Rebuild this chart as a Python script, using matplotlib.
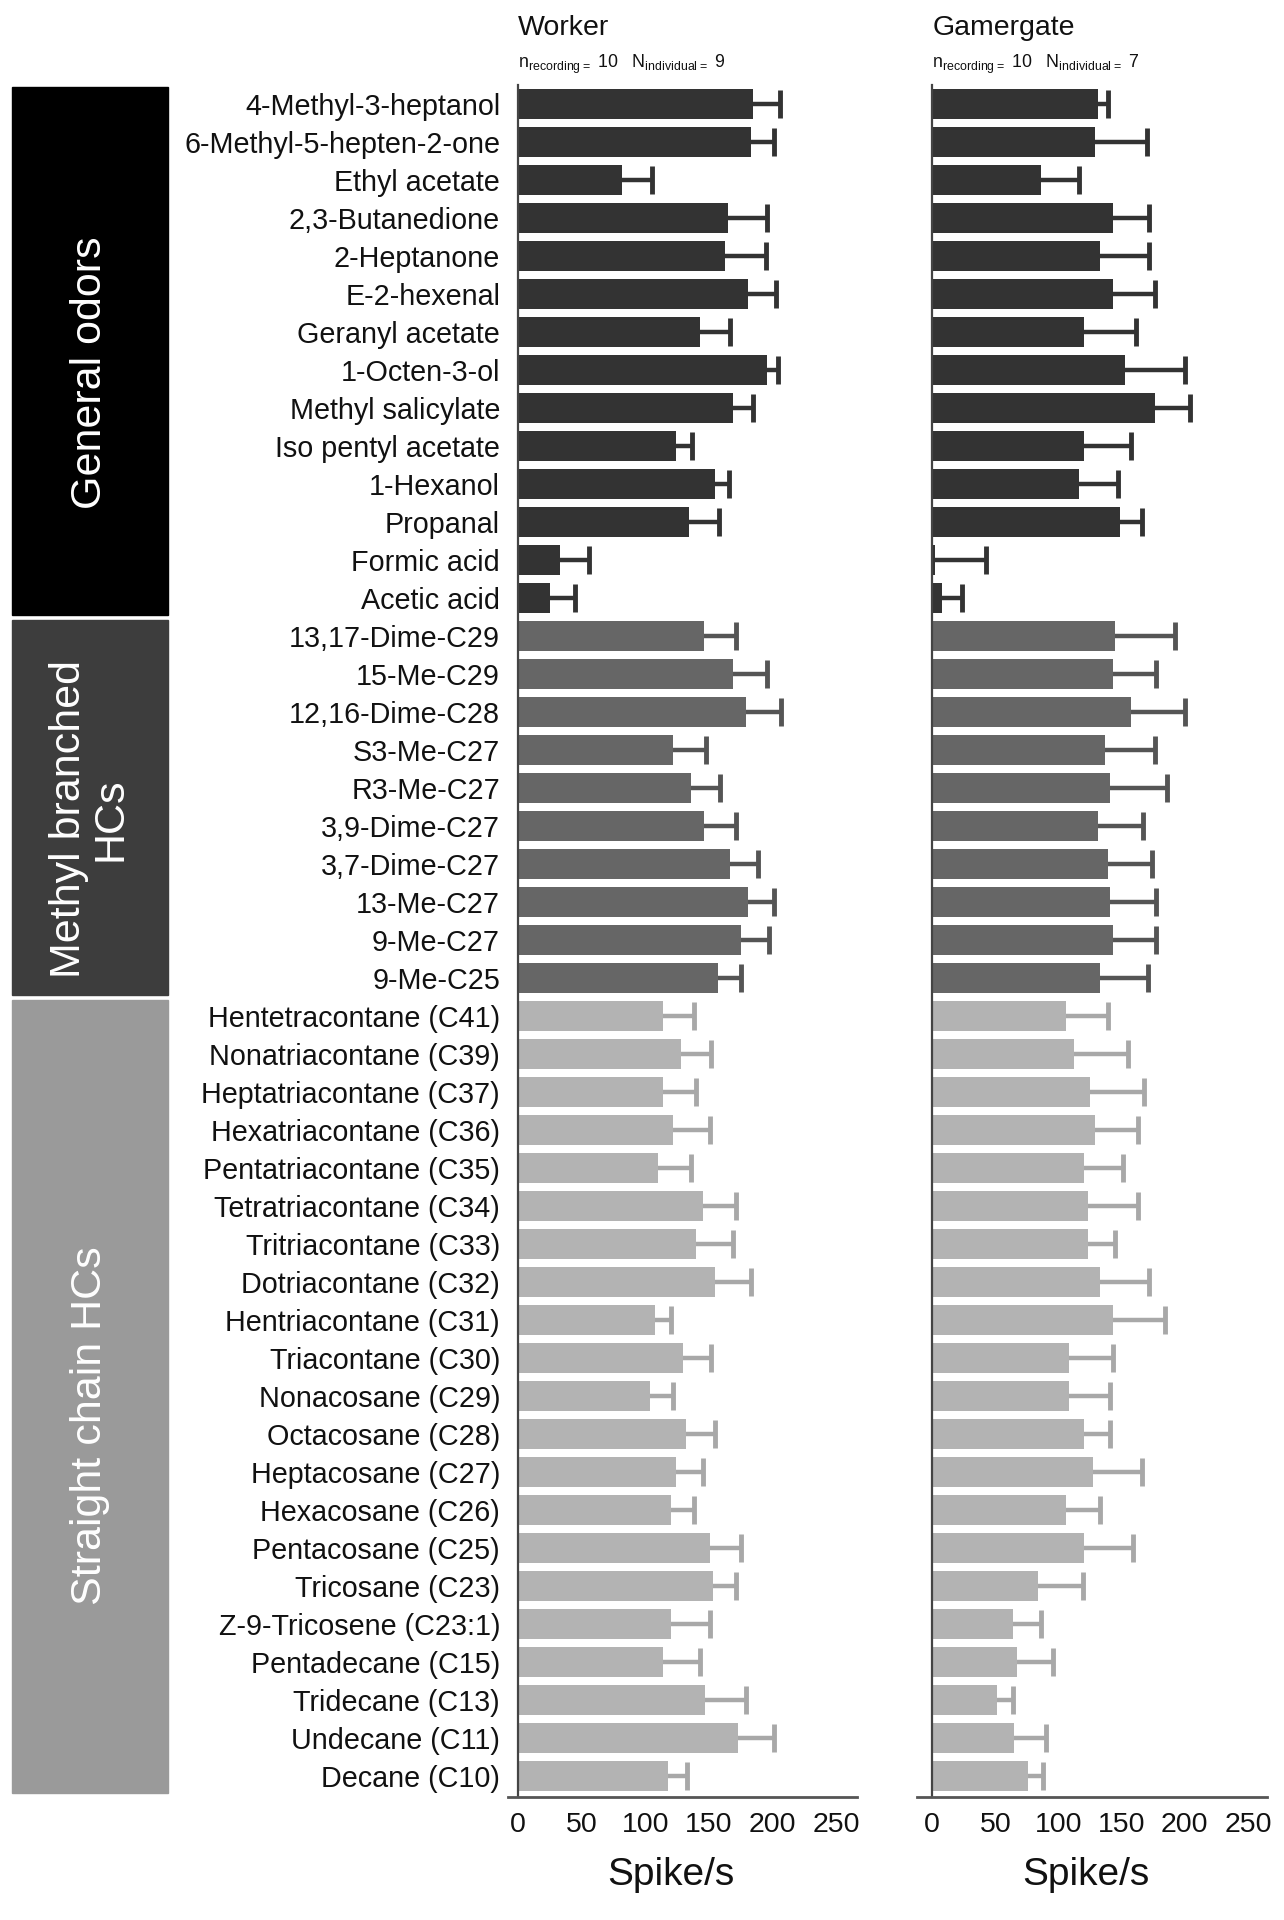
import matplotlib
matplotlib.use("Agg")
import matplotlib.pyplot as plt
from matplotlib.patches import Rectangle
from matplotlib.transforms import blended_transform_factory

plt.rcParams['font.family'] = ['Liberation Sans', 'DejaVu Sans']
plt.rcParams['mathtext.fontset'] = 'custom'
plt.rcParams['mathtext.rm'] = 'Liberation Sans'

# odor names, top to bottom
general = ["4-Methyl-3-heptanol", "6-Methyl-5-hepten-2-one", "Ethyl acetate",
           "2,3-Butanedione", "2-Heptanone", "E-2-hexenal", "Geranyl acetate",
           "1-Octen-3-ol", "Methyl salicylate", "Iso pentyl acetate", "1-Hexanol",
           "Propanal", "Formic acid", "Acetic acid"]
methyl = ["13,17-Dime-C29", "15-Me-C29", "12,16-Dime-C28", "S3-Me-C27", "R3-Me-C27",
          "3,9-Dime-C27", "3,7-Dime-C27", "13-Me-C27", "9-Me-C27", "9-Me-C25"]
straight = ["Hentetracontane (C41)", "Nonatriacontane (C39)", "Heptatriacontane (C37)",
            "Hexatriacontane (C36)", "Pentatriacontane (C35)", "Tetratriacontane (C34)",
            "Tritriacontane (C33)", "Dotriacontane (C32)", "Hentriacontane (C31)",
            "Triacontane (C30)", "Nonacosane (C29)", "Octacosane (C28)", "Heptacosane (C27)",
            "Hexacosane (C26)", "Pentacosane (C25)", "Tricosane (C23)",
            "Z-9-Tricosene (C23:1)", "Pentadecane (C15)", "Tridecane (C13)",
            "Undecane (C11)", "Decane (C10)"]

# spikes/s, mean and SEM
worker_general = [185, 183, 82, 165, 163, 181, 143, 196, 169, 124, 155, 134, 33, 25]
worker_general_err = [21, 18, 23, 31, 32, 22, 24, 8, 16, 13, 11, 24, 23, 20]
worker_methyl = [146, 169, 179, 122, 136, 146, 167, 181, 175, 157]
worker_methyl_err = [25, 27, 28, 26, 23, 25, 22, 20, 22, 18]
worker_straight = [114, 128, 114, 122, 110, 145, 140, 155, 108, 130, 104, 132, 124, 120,
                   151, 153, 120, 114, 147, 173, 118]
worker_straight_err = [24, 24, 26, 29, 26, 26, 29, 28, 12, 22, 18, 23, 21, 18,
                       24, 18, 31, 29, 32, 28, 15]

gamer_general = [131, 129, 86, 143, 133, 143, 120, 153, 176, 120, 116, 149, 2, 8]
gamer_general_err = [8, 41, 30, 29, 39, 33, 41, 47, 28, 37, 31, 17, 41, 16]
gamer_methyl = [145, 143, 157, 137, 141, 131, 139, 141, 143, 133]
gamer_methyl_err = [47, 34, 43, 39, 45, 36, 35, 36, 34, 38]
gamer_straight = [106, 112, 125, 129, 120, 123, 123, 133, 143, 108, 108, 120, 127, 106,
                  120, 84, 64, 67, 51, 65, 76]
gamer_straight_err = [33, 43, 43, 34, 31, 40, 22, 39, 41, 35, 33, 21, 39, 27,
                      39, 35, 22, 29, 13, 25, 12]

groups = ["General odors", "Methyl branched\nHCs", "Straight chain HCs"]
group_names = [general, methyl, straight]
bar_colors = ["#333333", "#666666", "#b3b3b3"]
err_colors = ["#333333", "#555555", "#a8a8a8"]
block_colors = ["#000000", "#3d3d3d", "#9a9a9a"]
text_shift = [22, 12, 30]  # px, block captions sit a bit low

labels = general + methyl + straight
n = len(labels)

fig = plt.figure(figsize=(12.84, 19.2), dpi=100)
W, H = 1284, 1920
ax1 = fig.add_axes([508 / W, 1 - 1797 / H, 349 / W, 1712 / H])
ax2 = fig.add_axes([917 / W, 1 - 1797 / H, 350 / W, 1712 / H])

panels = [
    (ax1, [worker_general, worker_methyl, worker_straight],
     [worker_general_err, worker_methyl_err, worker_straight_err], -8, 266.5, 0.467),
    (ax2, [gamer_general, gamer_methyl, gamer_straight],
     [gamer_general_err, gamer_methyl_err, gamer_straight_err], -12, 265, 0.483),
]

for ax, means, errs, xmin, xmax, labx in panels:
    start = 0
    for g in range(3):
        m = means[g]
        e = errs[g]
        y = list(range(start, start + len(m)))
        top = [a + b for a, b in zip(m, e)]
        ax.barh(y, m, height=0.8, color=bar_colors[g], zorder=2)
        ax.hlines(y, m, top, color=err_colors[g], lw=3.2, zorder=1)
        ax.plot(top, y, ls='none', marker='|', markersize=20, mew=3.5,
                color=err_colors[g], zorder=1)
        start += len(m)
    ax.set_xlim(xmin, xmax)
    ax.set_ylim(n - 0.45, -0.5)
    ax.set_xticks([0, 50, 100, 150, 200, 250])
    ax.tick_params(axis='x', length=0, pad=11, labelsize=20.5, labelcolor='#111111')
    ax.spines['top'].set_visible(False)
    ax.spines['right'].set_visible(False)
    ax.spines['left'].set_position(('data', 0))
    ax.spines['left'].set_color('#444444')
    ax.spines['left'].set_linewidth(1.6)
    ax.spines['bottom'].set_color('#555555')
    ax.spines['bottom'].set_linewidth(2)
    ax.text(labx, -(1875 - 1797) / 1712, "Spike/s", transform=ax.transAxes,
            ha='center', va='center', fontsize=28, color='#111111')

ax1.set_yticks(range(n))
ax1.set_yticklabels(labels)
ax1.tick_params(axis='y', length=0, pad=13, labelsize=20.7, labelcolor='#111111')
ax2.set_yticks([])

# headers
heads = [(ax1, "Worker", r"$\mathrm{n_{recording=}}$ 10   $\mathrm{N_{individual=}}$ 9"),
         (ax2, "Gamergate", r"$\mathrm{n_{recording=}}$ 10   $\mathrm{N_{individual=}}$ 7")]
for ax, title, sub in heads:
    tr = blended_transform_factory(ax.transData, fig.transFigure)
    ax.text(0, 1 - 28 / H, title, transform=tr, fontsize=20.5, va='center', ha='left',
            color='#111111')
    ax.text(0, 1 - 64 / H, sub, transform=tr, fontsize=12.8, va='center', ha='left',
            color='#111111')

# group blocks on the left
start = 0
for g in range(3):
    k = len(group_names[g])
    top = ax1.transData.transform((0, start - 0.5))[1]
    bot = ax1.transData.transform((0, start + k - 0.5))[1]
    y0 = fig.transFigure.inverted().transform((0, bot))[1]
    y1 = fig.transFigure.inverted().transform((0, top))[1]
    gap = 2.5 / H
    fig.patches.append(Rectangle((12 / W, y0 + gap), 156 / W, y1 - y0 - 2 * gap,
                                 transform=fig.transFigure, color=block_colors[g]))
    fig.text(90 / W, (y0 + y1) / 2 - text_shift[g] / H, groups[g], rotation=90,
             ha='center', va='center', color='white', fontsize=31, linespacing=1.05)
    start += k

fig.savefig("out.png", dpi=100)
